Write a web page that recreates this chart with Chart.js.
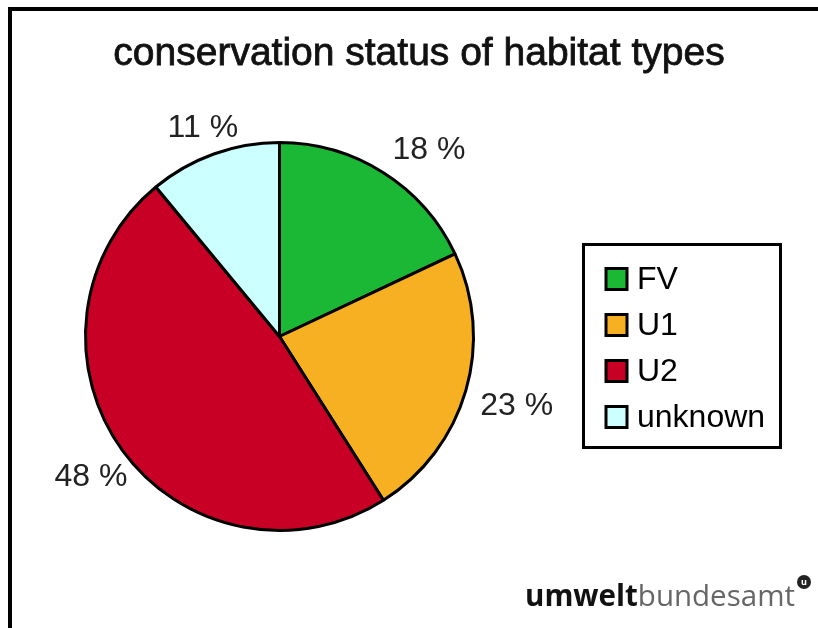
<!DOCTYPE html>
<html>
<head>
<meta charset="utf-8">
<script src="https://cdn.jsdelivr.net/npm/chart.js@4.4.1/dist/chart.umd.min.js"></script>
<style>
  html, body { margin: 0; padding: 0; background: #fff; }
  canvas { display: block; }
</style>
</head>
<body>
<canvas id="c" width="818" height="628"></canvas>
<script>
// ---- data ----
const categories = ["FV", "U1", "U2", "unknown"];
const shares = [18, 23, 48, 11];
const labelTexts = ["18 %", "23 %", "48 %", "11 %"];
const chartTitle = "conservation status of habitat types";

// ---- styles ----
const sliceColors = ["#1ab835", "#f7b022", "#c80026", "#ccffff"];
const FONT = "'Liberation Sans', Arial, sans-serif";
const labelNudge = [[1, 1], [0, 4], [17, 5], [18, -1]];

const framePlugin = {
  id: 'frame',
  beforeDraw(chart) {
    const ctx = chart.ctx;
    ctx.save();
    ctx.fillStyle = '#fff';
    ctx.fillRect(0, 0, chart.width, chart.height);
    ctx.fillStyle = '#000';
    ctx.fillRect(8, 7, chart.width - 8, 4);
    ctx.fillRect(8, 7, 4, chart.height - 7);
    // title
    ctx.font = "39px " + FONT;
    ctx.fillStyle = '#111';
    ctx.strokeStyle = '#111';
    ctx.lineWidth = 0.8;
    ctx.textAlign = 'center';
    ctx.textBaseline = 'alphabetic';
    ctx.fillText(chartTitle, 419, 65);
    ctx.strokeText(chartTitle, 419, 65);
    ctx.restore();
  },
  afterDraw(chart) {
    const ctx = chart.ctx;
    const meta = chart.getDatasetMeta(0);
    ctx.save();
    // percentage labels
    ctx.font = "32px " + FONT;
    ctx.fillStyle = '#222';
    ctx.textAlign = 'center';
    ctx.textBaseline = 'middle';
    meta.data.forEach((arc, i) => {
      const p = arc.getProps(['x', 'y', 'startAngle', 'endAngle', 'outerRadius'], true);
      const mid = (p.startAngle + p.endAngle) / 2;
      const ux = Math.cos(mid), uy = Math.sin(mid);
      const R = p.outerRadius + 15;
      const ax = p.x + R * ux, ay = p.y + R * uy;
      const w = ctx.measureText(labelTexts[i]).width, h = 24;
      const sx = Math.max(-1, Math.min(1, ux * 2));
      const sy = Math.max(-1, Math.min(1, uy * 2));
      const cx = ax + sx * w / 2 + labelNudge[i][0];
      const cy = ay + sy * h / 2 + labelNudge[i][1];
      ctx.fillText(labelTexts[i], cx, cy + 1);
    });
    // legend box
    ctx.lineWidth = 3;
    ctx.strokeStyle = '#000';
    ctx.strokeRect(583.5, 244.5, 197, 203);
    ctx.textAlign = 'left';
    ctx.fillStyle = '#000';
    chart.data.labels.forEach((lab, i) => {
      const yc = 279 + i * 46;
      ctx.fillStyle = sliceColors[i];
      ctx.fillRect(606, yc - 10.5, 21, 21);
      ctx.lineWidth = 3;
      ctx.strokeRect(606, yc - 10.5, 21, 21);
      ctx.fillStyle = '#000';
      ctx.fillText(lab, 637, yc + 1);
    });
    // logo
    const t1 = "umwelt", t2 = "bundesamt";
    let fs = 28;
    const fam = "'Open Sans', 'Noto Sans', sans-serif";
    ctx.font = "bold " + fs + "px " + fam;
    let w1 = ctx.measureText(t1).width;
    ctx.font = fs + "px " + fam;
    let w2 = ctx.measureText(t2).width;
    fs = fs * 270 / (w1 + w2);
    ctx.textBaseline = 'alphabetic';
    ctx.font = "bold " + fs + "px " + fam;
    w1 = ctx.measureText(t1).width;
    ctx.fillStyle = '#111';
    ctx.fillText(t1, 525, 606);
    ctx.font = fs + "px " + fam;
    ctx.fillStyle = '#666';
    ctx.fillText(t2, 525 + w1, 606);
    ctx.beginPath();
    ctx.arc(804, 582, 7, 0, Math.PI * 2);
    ctx.fillStyle = '#222';
    ctx.fill();
    ctx.fillStyle = '#fff';
    ctx.font = "bold 9px " + fam;
    ctx.textAlign = 'center';
    ctx.textBaseline = 'middle';
    ctx.fillText("u", 804, 582);
    ctx.restore();
  }
};

new Chart(document.getElementById('c'), {
  type: 'pie',
  data: {
    labels: categories,
    datasets: [{
      data: shares,
      backgroundColor: sliceColors,
      borderColor: '#000',
      borderWidth: 3
    }]
  },
  options: {
    responsive: false,
    animation: false,
    layout: { padding: { left: 84, right: 343, top: 141, bottom: 96 } },
    plugins: {
      legend: { display: false },
      title: { display: false },
      tooltip: { enabled: false }
    }
  },
  plugins: [framePlugin]
});
</script>
</body>
</html>
